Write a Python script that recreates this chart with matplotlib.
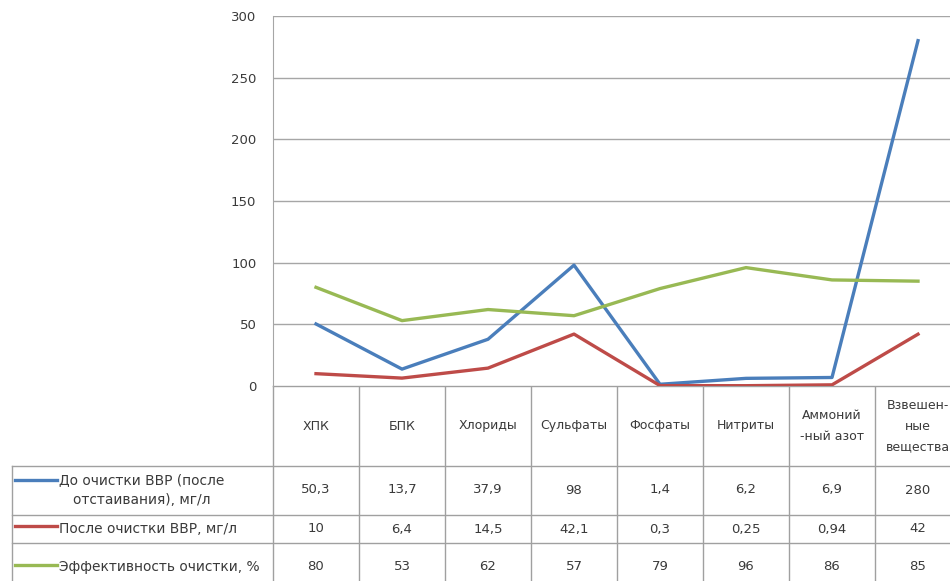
import matplotlib
matplotlib.use("Agg")
import matplotlib.pyplot as plt

# --- данные ---
categories = ["ХПК", "БПК", "Хлориды", "Сульфаты", "Фосфаты", "Нитриты",
              "Аммоний\n-ный азот", "Взвешен-\nные\nвещества"]
before = [50.3, 13.7, 37.9, 98, 1.4, 6.2, 6.9, 280]
after = [10, 6.4, 14.5, 42.1, 0.3, 0.25, 0.94, 42]
effect = [80, 53, 62, 57, 79, 96, 86, 85]
series_names = ["До очистки ВВР (после\nотстаивания), мг/л",
                "После очистки ВВР, мг/л",
                "Эффективность очистки, %"]
colors = ["#4a7ebb", "#be4b48", "#98b954"]
yticks = [0, 50, 100, 150, 200, 250, 300]

W, H = 950, 581
fig = plt.figure(figsize=(W / 100, H / 100), dpi=100)
plt.rcParams["font.family"] = ["DejaVu Sans"]
txt = "#3a3a3a"
grid = "#a6a6a6"

# --- область графика (в пикселях) ---
x0, col_w = 273, 86
y_top, y_zero = 16, 386
n = len(categories)
ax = fig.add_axes([x0 / W, 1 - y_zero / H, n * col_w / W, (y_zero - y_top) / H])
xs = [i + 0.5 for i in range(n)]
for vals, c in zip([before, after, effect], colors):
    ax.plot(xs, vals, color=c, lw=2.4, solid_joinstyle="round", zorder=3)
ax.set_xlim(0, n)
ax.set_ylim(0, 300)
ax.set_yticks(yticks)
ax.set_xticks([])
ax.yaxis.grid(True, color=grid, lw=1)
ax.tick_params(axis="y", length=0, pad=12, labelsize=9.5, labelcolor=txt)
for s in ["top", "right", "bottom"]:
    ax.spines[s].set_visible(False)
ax.spines["left"].set_color(grid)

# --- таблица данных ---
tab = fig.add_axes([0, 0, 1, 1], zorder=-1)
tab.set_xlim(0, W)
tab.set_ylim(H, 0)
tab.axis("off")
rows = [386, 466, 515, 543, 583]
x_leg = 12
x_end = x0 + n * col_w
lc = "#a0a0a0"
tab.plot([x0, x_end], [rows[0]] * 2, color=lc, lw=1)
for r in rows[1:]:
    tab.plot([x_leg, x_end], [r, r], color=lc, lw=1)
for k in range(n + 1):
    tab.plot([x0 + k * col_w] * 2, [rows[0], rows[-1]], color=lc, lw=1)
tab.plot([x_leg, x_leg], [rows[1], rows[-1]], color=lc, lw=1)

for i, cat in enumerate(categories):
    tab.text(x0 + (i + 0.5) * col_w, (rows[0] + rows[1]) / 2, cat,
             ha="center", va="center", fontsize=9, color=txt, linespacing=1.75)

row_mid = [490, 529, 567]
key_y = [480, 526, 565]
for j, (vals, name, c) in enumerate(zip([before, after, effect], series_names, colors)):
    yc = row_mid[j]
    for i, v in enumerate(vals):
        tab.text(x0 + (i + 0.5) * col_w, yc, str(v).replace(".", ","),
                 ha="center", va="center", fontsize=9.5, color=txt)
    tab.plot([15, 57], [key_y[j]] * 2, color=c, lw=2.4)
    tab.text(59, yc, name, ha="left", va="center", fontsize=9.9,
             color=txt, linespacing=1.6, multialignment="center")

fig.savefig("out.png", dpi=100)
